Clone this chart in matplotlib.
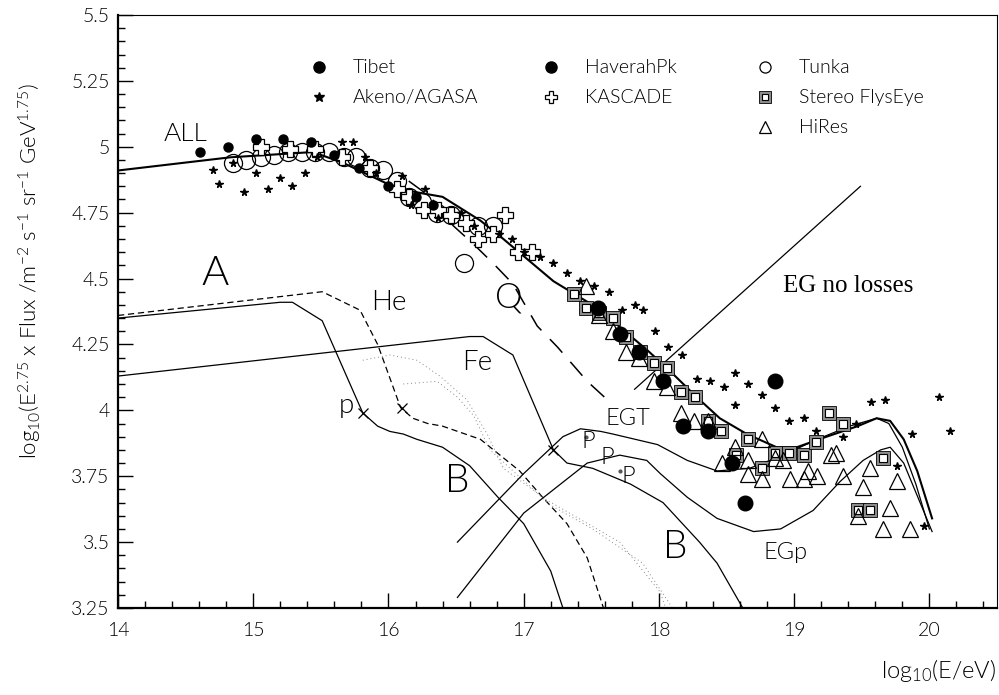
import matplotlib
matplotlib.use("Agg")
import matplotlib.pyplot as plt
from matplotlib.ticker import MultipleLocator, FuncFormatter

plt.rcParams['font.family'] = ['Lato', 'DejaVu Sans']
plt.rcParams['font.weight'] = 300
plt.rcParams['mathtext.default'] = 'regular'

# ---- data points (log10 E, log10 E^2.75 flux) ----
tibet_x = [14.61, 14.81, 15.02, 15.22, 15.43, 15.60, 15.78, 16.00, 16.20, 16.33]
tibet_y = [4.98, 5.00, 5.03, 5.03, 5.02, 4.97, 4.92, 4.85, 4.81, 4.78]

haverah_x = [17.55, 17.71, 17.85, 18.03, 18.18, 18.36, 18.54, 18.64, 18.86]
haverah_y = [4.39, 4.29, 4.22, 4.11, 3.94, 3.92, 3.80, 3.65, 4.11]

tunka_x = [14.85, 14.95, 15.06, 15.15, 15.26, 15.36, 15.46, 15.56, 15.67, 15.76,
           15.86, 15.96, 16.06, 16.15, 16.25, 16.36, 16.46, 16.56, 16.66, 16.77]
tunka_y = [4.94, 4.95, 4.96, 4.97, 4.98, 4.98, 4.98, 4.98, 4.96, 4.96,
           4.92, 4.91, 4.87, 4.81, 4.79, 4.75, 4.74, 4.56, 4.70, 4.70]

kascade_x = [15.06, 15.27, 15.46, 15.66, 15.86, 16.06, 16.15, 16.26, 16.37, 16.46,
             16.57, 16.66, 16.77, 16.86, 16.96, 17.06]
kascade_y = [5.00, 4.99, 4.99, 4.96, 4.92, 4.84, 4.81, 4.76, 4.76, 4.74,
             4.71, 4.65, 4.67, 4.74, 4.60, 4.60]

akeno_x = [14.70, 14.75, 14.85, 14.93, 15.02, 15.11, 15.20, 15.29, 15.38, 15.47,
           15.66, 15.74, 15.83, 15.91, 16.10, 16.17, 16.27, 16.37, 16.54, 16.63,
           16.82, 16.91, 17.00, 17.12, 17.22, 17.32, 17.42, 17.52, 17.63, 17.73,
           17.82, 17.88, 17.97, 18.07, 18.17, 18.28, 18.38, 18.48, 18.56, 18.56,
           18.66, 18.76, 18.86, 18.96, 19.07, 19.16, 19.36, 19.46, 19.57, 19.67,
           19.76, 19.87, 19.96, 20.07, 20.15]
akeno_y = [4.91, 4.86, 4.94, 4.83, 4.90, 4.84, 4.88, 4.85, 4.90, 4.96,
           5.02, 5.02, 4.96, 4.90, 4.89, 4.78, 4.84, 4.73, 4.75, 4.70,
           4.67, 4.65, 4.60, 4.58, 4.56, 4.52, 4.49, 4.47, 4.45, 4.38,
           4.40, 4.38, 4.30, 4.24, 4.21, 4.12, 4.11, 4.09, 4.14, 4.02,
           4.10, 4.06, 4.01, 3.96, 3.97, 3.92, 3.90, 3.95, 4.03, 4.04,
           3.79, 3.91, 3.56, 4.05, 3.92]

flyseye_x = [17.37, 17.46, 17.56, 17.66, 17.76, 17.86, 17.96, 18.06, 18.16, 18.27,
             18.36, 18.46, 18.57, 18.66, 18.76, 18.86, 18.96, 19.07, 19.16, 19.26,
             19.36, 19.47, 19.56, 19.66]
flyseye_y = [4.44, 4.39, 4.37, 4.35, 4.28, 4.22, 4.18, 4.16, 4.07, 4.05,
             3.96, 3.92, 3.83, 3.89, 3.78, 3.84, 3.84, 3.83, 3.88, 3.99,
             3.95, 3.62, 3.62, 3.82]

hires_x = [17.46, 17.56, 17.66, 17.76, 17.85, 17.96, 18.06, 18.16, 18.26, 18.36,
           18.47, 18.56, 18.66, 18.66, 18.76, 18.76, 18.86, 18.92, 18.97, 19.07,
           19.10, 19.17, 19.27, 19.31, 19.36, 19.47, 19.51, 19.56, 19.66, 19.71,
           19.76, 19.86]
hires_y = [4.47, 4.36, 4.30, 4.22, 4.20, 4.11, 4.09, 3.99, 3.96, 3.96,
           3.80, 3.86, 3.81, 3.76, 3.89, 3.74, 3.82, 3.81, 3.74, 3.74,
           3.77, 3.75, 3.83, 3.84, 3.75, 3.60, 3.71, 3.78, 3.55, 3.63,
           3.73, 3.55]

# ---- model curves ----
all_x = [14.0, 14.83, 15.44, 15.66, 15.99, 16.18, 16.40, 16.68, 16.85, 17.22, 17.54,
         17.91, 18.06, 18.28, 18.45, 18.65, 18.87, 19.02, 19.24, 19.47, 19.61,
         19.71, 19.81, 19.91, 20.02]
all_y = [4.91, 4.96, 4.98, 4.94, 4.86, 4.83, 4.81, 4.72, 4.65, 4.49, 4.39,
         4.23, 4.16, 4.05, 3.97, 3.91, 3.86, 3.86, 3.90, 3.94, 3.97,
         3.96, 3.89, 3.77, 3.59]

p_x = [14.0, 15.20, 15.29, 15.51, 15.81, 15.92, 16.01, 16.11, 16.21, 16.40, 16.60,
       16.81, 17.00, 17.20, 17.29]
p_y = [4.35, 4.41, 4.41, 4.34, 3.99, 3.94, 3.92, 3.91, 3.89, 3.86, 3.79,
       3.67, 3.57, 3.39, 3.25]

he_x = [14.0, 15.51, 15.79, 15.92, 16.09, 16.18, 16.29, 16.40, 16.68, 16.97, 17.14,
        17.32, 17.47, 17.59]
he_y = [4.36, 4.45, 4.38, 4.25, 4.01, 3.97, 3.95, 3.94, 3.89, 3.77, 3.67,
        3.57, 3.44, 3.25]

fe_x = [14.0, 16.60, 16.70, 16.92, 17.22, 17.32, 17.51, 17.79, 18.03, 18.30, 18.43, 18.62]
fe_y = [4.13, 4.28, 4.28, 4.21, 3.85, 3.80, 3.78, 3.72, 3.65, 3.50, 3.42, 3.25]

dot1_x = [15.81, 16.01, 16.21, 16.38, 16.58, 16.73, 16.85, 17.17, 17.71, 18.01, 18.05]
dot1_y = [4.19, 4.21, 4.19, 4.13, 4.04, 3.91, 3.78, 3.66, 3.50, 3.31, 3.25]
dot2_x = [16.11, 16.36, 16.51, 16.63, 16.75, 17.20, 17.51, 17.88, 18.10]
dot2_y = [4.10, 4.11, 4.05, 3.98, 3.85, 3.64, 3.55, 3.42, 3.25]

q_x = [16.15, 16.31, 16.48, 16.63, 16.77, 16.92, 17.10, 17.25, 17.47, 17.64]
q_y = [4.87, 4.81, 4.70, 4.63, 4.56, 4.48, 4.32, 4.24, 4.11, 4.03]

egt_x = [16.51, 17.00, 17.29, 17.42, 17.57, 17.66, 17.99, 18.21, 18.43, 18.67, 18.92,
         19.17, 19.41, 19.61, 19.70, 19.80, 19.90, 20.00]
egt_y = [3.50, 3.76, 3.90, 3.93, 3.92, 3.91, 3.87, 3.81, 3.77, 3.78, 3.83,
         3.89, 3.94, 3.97, 3.95, 3.86, 3.72, 3.55]

egp_x = [16.51, 17.00, 17.47, 17.71, 17.91, 18.01, 18.21, 18.43, 18.70, 18.90, 19.14,
         19.34, 19.51, 19.64, 19.71, 19.81, 20.02]
egp_y = [3.29, 3.61, 3.80, 3.83, 3.81, 3.76, 3.67, 3.59, 3.54, 3.55, 3.62,
         3.73, 3.81, 3.85, 3.86, 3.80, 3.54]

eg_noloss_x = [17.82, 19.49]
eg_noloss_y = [4.08, 4.85]

knee_x = [15.81, 16.10, 17.22]
knee_y = [3.99, 4.01, 3.85]
pdot_x = [17.46, 17.71]
pdot_y = [3.90, 3.77]

# curve labels: (text, x, y, size)
labels = [("ALL", 14.50, 5.05, 19), ("A", 14.72, 4.52, 30), ("He", 16.00, 4.41, 20),
          ("Q", 16.89, 4.43, 25), ("Fe", 16.66, 4.18, 20), ("p", 15.69, 4.02, 20),
          ("B", 16.51, 3.73, 28), ("EGT", 17.77, 3.97, 17), ("P", 17.48, 3.88, 17),
          ("P", 17.62, 3.82, 17), ("P", 17.77, 3.75, 17), ("B", 18.12, 3.48, 28),
          ("EGp", 18.94, 3.46, 17)]

# legend layout: (label, col_px, row_px)
legend_rows = [("Tibet", 319, 67), ("Akeno/AGASA", 319, 97), ("HaverahPk", 551, 67),
               ("KASCADE", 551, 97), ("Tunka", 765, 67), ("Stereo FlysEye", 765, 97),
               ("HiRes", 765, 127)]

fig = plt.figure(figsize=(9.99, 6.95), dpi=100)
ax = fig.add_axes([118 / 999, 87 / 695, 879 / 999, 593 / 695])
ax.set_xlim(14, 20.5)
ax.set_ylim(3.25, 5.5)

lw = 0.9
ax.plot(all_x, all_y, color='k', lw=1.5)
ax.plot(p_x, p_y, color='k', lw=lw)
ax.plot(he_x, he_y, color='k', lw=lw, ls=(0, (5, 3)))
ax.plot(fe_x, fe_y, color='k', lw=lw)
ax.plot(dot1_x, dot1_y, color='#888888', lw=0.7, ls=(0, (1, 3)))
ax.plot(dot2_x, dot2_y, color='#888888', lw=0.7, ls=(0, (1, 3)))
ax.plot(q_x, q_y, color='k', lw=1.1, ls=(0, (12, 8)))
ax.plot(egt_x, egt_y, color='k', lw=lw)
ax.plot(egp_x, egp_y, color='k', lw=lw)
ax.plot(eg_noloss_x, eg_noloss_y, color='k', lw=lw)
ax.plot(knee_x, knee_y, ls='none', marker='x', ms=7, mew=0.9, color='k')
ax.plot(pdot_x, pdot_y, ls='none', marker='o', ms=2, color='#555555')

# data markers
sty = {
    'tibet': dict(marker='o', ms=6.5, mfc='k', mec='k', ls='none'),
    'haverah': dict(marker='o', ms=10.5, mfc='k', mec='k', ls='none'),
    'tunka': dict(marker='o', ms=13, mfc='none', mec='k', mew=0.9, ls='none'),
    'kascade': dict(marker='P', ms=11, mfc='white', mec='k', mew=0.9, ls='none'),
    'akeno': dict(marker='*', ms=5.5, mfc='k', mec='k', ls='none'),
    'fly_out': dict(marker='s', ms=9.5, mfc='#8c8c8c', mec='k', mew=0.6, ls='none'),
    'fly_in': dict(marker='s', ms=5.5, mfc='white', mec='k', mew=0.8, ls='none'),
    'hires': dict(marker='^', ms=11, mfc='none', mec='k', mew=0.9, ls='none'),
}
ax.plot(tunka_x, tunka_y, **sty['tunka'])
ax.plot(kascade_x, kascade_y, **sty['kascade'])
ax.plot(tibet_x, tibet_y, **sty['tibet'])
ax.plot(akeno_x, akeno_y, **sty['akeno'])
ax.plot(flyseye_x, flyseye_y, **sty['fly_out'])
ax.plot(flyseye_x, flyseye_y, **sty['fly_in'])
ax.plot(hires_x, hires_y, **sty['hires'])
ax.plot(haverah_x, haverah_y, **sty['haverah'])

for txt, x, y, s in labels:
    ax.text(x, y, txt, fontsize=s, ha='center', va='center')
ax.text(18.92, 4.47, "EG no losses", fontsize=18, family='Liberation Serif',
        fontweight='normal', ha='left', va='center')

# legend drawn by hand to keep the irregular column layout
leg_style = {"Tibet": [dict(sty['tibet'], ms=8)], "HaverahPk": [dict(sty['tibet'], ms=8)],
             "Tunka": [dict(sty['tunka'], ms=8)], "Akeno/AGASA": [dict(sty['akeno'], ms=7)],
             "KASCADE": [dict(sty['kascade'], ms=8)],
             "Stereo FlysEye": [dict(sty['fly_out'], ms=8), dict(sty['fly_in'], ms=4.5)],
             "HiRes": [dict(sty['hires'], ms=8)]}
for name, cx, cy in legend_rows:
    fx = (cx - 118) / 879
    fy = (608 - cy) / 593
    for st in leg_style[name]:
        ax.plot([fx], [fy], transform=ax.transAxes, clip_on=False, **st)
    ax.text(fx + 34 / 879, fy, name, transform=ax.transAxes, fontsize=14,
            ha='left', va='center')

ax.xaxis.set_major_locator(MultipleLocator(1))
ax.xaxis.set_minor_locator(MultipleLocator(0.2))
ax.yaxis.set_major_locator(MultipleLocator(0.25))
ax.yaxis.set_minor_locator(MultipleLocator(0.05))
ax.yaxis.set_major_formatter(FuncFormatter(lambda v, p: '%g' % v))
ax.xaxis.set_major_formatter(FuncFormatter(lambda v, p: '%g' % v))
ax.tick_params(which='both', direction='in', top=False, right=False, labelsize=14)
ax.tick_params(which='major', length=11, width=1)
ax.tick_params(which='minor', length=5, width=1)
ax.tick_params(axis='x', pad=10)
ax.tick_params(axis='y', pad=6)
for side in ['left', 'bottom']:
    ax.spines[side].set_linewidth(1.6)
for side in ['top', 'right']:
    ax.spines[side].set_linewidth(0.8)

fig.text(0.997, 0.035, r"log$_{10}$(E/eV)", fontsize=17, ha='right', va='center')
fig.text(0.03, 0.61, r"log$_{10}$(E$^{2.75}$ x Flux /m$^{-2}$ s$^{-1}$ sr$^{-1}$ GeV$^{1.75}$)",
         fontsize=16, rotation=90, ha='center', va='center')

fig.savefig("out.png", dpi=100)
